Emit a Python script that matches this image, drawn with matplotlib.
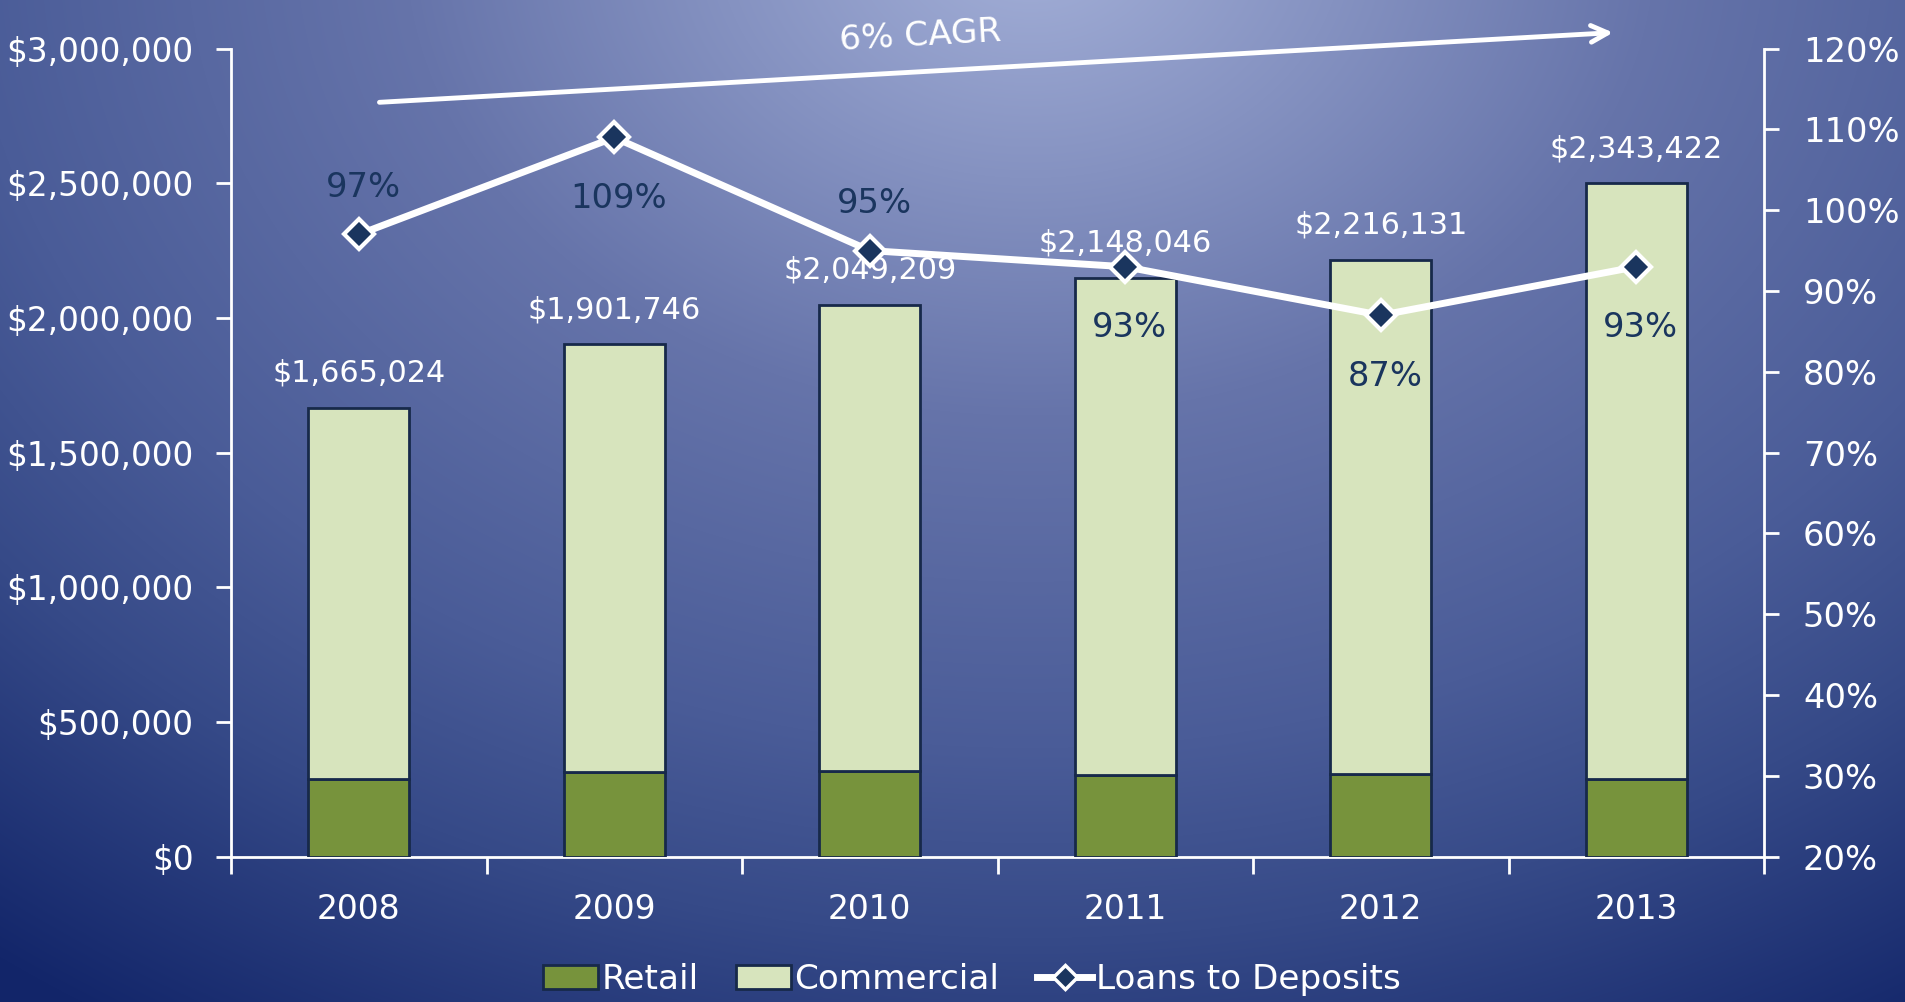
import numpy as np
import matplotlib
matplotlib.use('Agg')
import matplotlib.pyplot as plt
from matplotlib.lines import Line2D
from matplotlib.patches import Patch
from matplotlib.ticker import FuncFormatter, FixedLocator

# data
years = ['2008', '2009', '2010', '2011', '2012', '2013']
retail = [288000, 315000, 318000, 302000, 306000, 289000]
bar_totals = [1665024, 1901746, 2049209, 2148046, 2216131, 2500000]
total_labels = ['$1,665,024', '$1,901,746', '$2,049,209', '$2,148,046', '$2,216,131', '$2,343,422']
loans_to_deposits = [97, 109, 95, 93, 87, 93]
ltd_label_side = ['above', 'below', 'above', 'below', 'below', 'below']
cagr_text = '6% CAGR'

commercial = [t - r for t, r in zip(bar_totals, retail)]

NAVY = '#1a355e'
RETAIL_C = '#77933c'
COMM_C = '#d7e4bd'
EDGE = '#17294a'

plt.rcParams['font.family'] = ['DejaVu Sans']

fig = plt.figure(figsize=(19.05, 10.02), dpi=100)

# background radial gradient
bg = fig.add_axes([0, 0, 1, 1], zorder=-10)
W, H = 1905, 1002
xx, yy = np.meshgrid(np.arange(W), np.arange(H))
d = np.sqrt(((xx - 1030) / 1.25) ** 2 + ((yy + 60) / 0.95) ** 2)
stops_d = [0, 500, 850, 1050, 1350]
stops_c = np.array([[0xa4, 0xb0, 0xd8], [0x66, 0x74, 0xaa], [0x4a, 0x5c, 0x98],
                    [0x36, 0x4a, 0x88], [0x13, 0x26, 0x6a]]) / 255.0
img = np.zeros((H, W, 3))
for k in range(3):
    img[:, :, k] = np.interp(d, stops_d, stops_c[:, k])
bg.imshow(img, aspect='auto', extent=[0, 1, 0, 1], origin='upper')
bg.axis('off')

ax = fig.add_axes([0.1213, 0.1451, 0.8047, 0.8064])
ax.patch.set_alpha(0)
x = np.arange(len(years))
bw = 0.395
ax.bar(x, retail, bw, color=RETAIL_C, edgecolor=EDGE, linewidth=2, zorder=3)
ax.bar(x, commercial, bw, bottom=retail, color=COMM_C, edgecolor=EDGE, linewidth=2, zorder=3)

ax.set_xlim(-0.5, 5.5)
ax.set_ylim(0, 3000000)
ax.set_yticks(np.arange(0, 3000001, 500000))
ax.yaxis.set_major_formatter(FuncFormatter(lambda v, p: '${:,.0f}'.format(v)))
ax.set_xticks(x)
ax.set_xticklabels(years)
ax.xaxis.set_minor_locator(FixedLocator(np.arange(-0.5, 5.6, 1.0)))
ax.tick_params(axis='x', which='major', length=0, pad=26, labelsize=23.7, colors='white')
ax.tick_params(axis='x', which='minor', length=12, width=2, color='white', direction='out')
ax.tick_params(axis='y', length=11, width=2, color='white', labelcolor='white', labelsize=23.6, pad=16)
for s in ['top', 'right']:
    ax.spines[s].set_visible(False)
for s in ['left', 'bottom']:
    ax.spines[s].set_color('white')
    ax.spines[s].set_linewidth(2)

for xi, t, lab in zip(x, bar_totals, total_labels):
    ax.annotate(lab, (xi, t), xytext=(0, 25), textcoords='offset points',
                ha='center', va='center', color='white', fontsize=21.8)

ax2 = ax.twinx()
ax2.set_ylim(20, 120)
ax2.set_yticks(np.arange(20, 121, 10))
ax2.yaxis.set_major_formatter(FuncFormatter(lambda v, p: '{:.0f}%'.format(v)))
ax2.tick_params(axis='y', length=11, width=2, color='white', labelcolor='white', labelsize=24.3, pad=17)
for s in ['top', 'left', 'bottom']:
    ax2.spines[s].set_visible(False)
ax2.spines['right'].set_color('white')
ax2.spines['right'].set_linewidth(2)
ax2.plot(x, loans_to_deposits, color='white', lw=5, marker='D', markersize=15,
         markerfacecolor=NAVY, markeredgecolor='white', markeredgewidth=3, zorder=5)
for xi, v, side in zip(x, loans_to_deposits, ltd_label_side):
    off = 34 if side == 'above' else -44
    ax2.annotate('{}%'.format(v), (xi, v), xytext=(3, off), textcoords='offset points',
                 ha='center', va='center', color=NAVY, fontsize=24.3)

# CAGR arrow
ax.annotate('', xy=(4.92, 3060000), xytext=(0.07, 2800000),
            arrowprops=dict(arrowstyle='->', color='white', lw=3.5, mutation_scale=30),
            annotation_clip=False)
ax.text(2.2, 3045000, cagr_text, color='white', fontsize=24.7, rotation=3.2,
        ha='center', va='center', clip_on=False)

handles = [Patch(facecolor=RETAIL_C, edgecolor=EDGE, linewidth=2, label='Retail'),
           Patch(facecolor=COMM_C, edgecolor=EDGE, linewidth=2, label='Commercial'),
           Line2D([0], [0], color='white', lw=5, marker='D', markersize=12,
                  markerfacecolor=NAVY, markeredgecolor='white', markeredgewidth=2.5,
                  label='Loans to Deposits')]
fig.legend(handles=handles, loc='center', bbox_to_anchor=(0.51, 0.022), ncol=3,
           frameon=False, fontsize=24.7, labelcolor='white', handlelength=1.6,
           handletextpad=0.1, columnspacing=1.1)

fig.savefig('out.png', dpi=100)
